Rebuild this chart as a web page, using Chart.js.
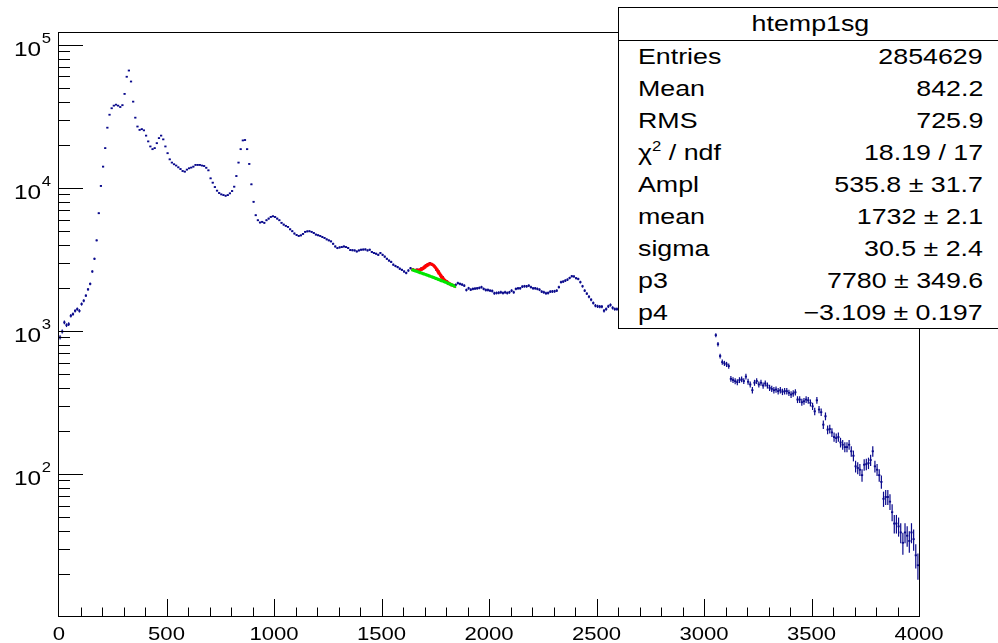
<!DOCTYPE html>
<html>
<head>
<meta charset="utf-8">
<script src="https://cdn.jsdelivr.net/npm/chart.js@4.4.1/dist/chart.umd.min.js"></script>
<style>
  html, body { margin: 0; padding: 0; background: #fff; }
  #wrap { position: relative; width: 998px; height: 643px; overflow: hidden; }
  #plot { position: absolute; left: 0; top: 0; }
  #stats {
    position: absolute; left: 618px; top: 7px; width: 384px; height: 322px;
    box-sizing: border-box; border: 1px solid #000; background: #fff;
    font-family: "Liberation Sans", Arial, sans-serif; font-size: 22.5px; color: #000;
  }
  #stats .head {
    position: absolute; left: 0; right: 0; top: 0; height: 32px; line-height: 32px;
    border-bottom: 1px solid #000; text-align: center;
  }
  #stats .row { position: absolute; left: 0; right: 0; height: 32px; line-height: 32px; }
  #stats .name, #stats .val { position: absolute; top: 0; white-space: nowrap; }
  #stats .name { left: 19px; transform: scaleX(1.19); transform-origin: left center; }
  #stats .val { right: 18px; transform: scaleX(1.19); transform-origin: right center; }
  #stats .head span { display: inline-block; transform: scaleX(1.19); }
  #stats sup { font-size: 14px; vertical-align: 9px; line-height: 0; }
</style>
</head>
<body>
<div id="wrap">
  <canvas id="plot" width="998" height="643"></canvas>
  <div id="stats"></div>
</div>
<script>
// 400 bins, 10 wide, 0..4000
const binWidth = 10;
const counts = [
  900, 990, 1146, 1096, 1114, 1274, 1310, 1380, 1420, 1380,
  1540, 1625, 1763, 1950, 2130, 2600, 3190, 4290, 6640, 10300,
  14060, 18930, 26300, 32400, 35970, 37500, 38100, 37500, 36700, 37800,
  45300, 59700, 66000, 55300, 40000, 30900, 26800, 25400, 25700, 25200,
  23150, 21100, 19450, 18620, 18930, 20500, 22240, 23150, 21800, 19450,
  17450, 15800, 15000, 14600, 14300, 13900, 13520, 13100, 12970, 13400,
  13680, 13840, 14060, 14450, 14450, 14450, 14300, 14200, 13800, 13240,
  11640, 10860, 10120, 9550, 9190, 8990, 8890, 8800, 8890, 9140,
  9490, 10180, 12080, 15000, 18620, 21430, 21570, 18620, 14680, 10570,
  7980, 6430, 5930, 5720, 5780, 5690, 5930, 6090, 6260, 6320,
  6250, 6090, 5930, 5690, 5530, 5420, 5330, 5130, 4970, 4790,
  4680, 4610, 4650, 4760, 4920, 4960, 4970, 4920, 4830, 4710,
  4660, 4610, 4530, 4460, 4360, 4290, 4220, 4060, 3890, 3790,
  3830, 3850, 3890, 3850, 3790, 3670, 3660, 3650, 3590, 3650,
  3690, 3700, 3710, 3650, 3690, 3560, 3500, 3460, 3400, 3500,
  3400, 3300, 3190, 3100, 3030, 2900, 2840, 2790, 2720, 2670,
  2600, 2540, 2640, 2740, 2700, 2630, 2680, 2640, 2730, 2740,
  2860, 2890, 2970, 2900, 2850, 2670, 2610, 2430, 2370, 2240,
  2210, 2130, 2100, 2080, 2095, 2155, 2130, 2105, 2070, 1930,
  1985, 1940, 1965, 1975, 1985, 1995, 2020, 1965, 1930, 1930,
  1910, 1900, 1830, 1840, 1845, 1860, 1840, 1860, 1840, 1860,
  1910, 1860, 1965, 1985, 1985, 2040, 2050, 2050, 2070, 2020,
  1985, 1985, 1965, 1940, 1880, 1860, 1830, 1840, 1880, 1885,
  1890, 1910, 2020, 2190, 2210, 2245, 2280, 2345, 2410, 2400,
  2335, 2305, 2190, 2050, 1910, 1820, 1733, 1652, 1566, 1500,
  1484, 1476, 1476, 1382, 1420, 1484, 1517, 1450, 1420, 1420,
  1400, 1380, 1410, 1370, 1350, 1380, 1360, 1330, 1350, 1320,
  1340, 1310, 1300, 1320, 1290, 1300, 1280, 1290, 1270, 1260,
  1280, 1250, 1260, 1240, 1250, 1230, 1240, 1220, 1230, 1210,
  1220, 1200, 1210, 1190, 1200, 1180, 1190, 1170, 1180, 1160,
  1170, 1150, 1160, 1130, 1100, 933, 807, 667, 605, 593,
  583, 567, 462, 453, 445, 438, 453, 458, 446, 479,
  441, 422, 385, 434, 446, 422, 434, 415, 429, 415,
  400, 393, 385, 389, 379, 385, 375, 379, 379, 369,
  359, 365, 372, 331, 331, 317, 322, 331, 327, 314,
  297, 274, 327, 282, 270, 221, 253, 204, 206, 195,
  181, 178, 181, 166, 160, 154, 154, 160, 144, 134,
  113, 110, 107, 98, 116, 117, 119, 125, 144, 113,
  107, 98, 88, 67, 69, 69, 64, 54, 45, 45,
  43, 39, 33, 39, 37, 34, 39, 35, 27, 23
];
const binCentres = counts.map((_, i) => (i + 0.5) * binWidth);

// gaus + pol1 fit, parameters as printed in the stats box
const fitNames = ['Ampl', 'mean', 'sigma', 'p3', 'p4'];
const fitValues = [535.8, 1732, 30.5, 7780, -3.109];
const fitErrors = [31.7, 2.1, 2.4, 349.6, 0.197];
const fitRange = [1640, 1840];

const statNames = ['Entries', 'Mean', 'RMS', '&chi;<sup>2</sup> / ndf'];
const statValues = ['2854629', '842.2', '725.9', '18.19 / 17'];

const xTicks = [0, 500, 1000, 1500, 2000, 2500, 3000, 3500, 4000];
const yExponents = [2, 3, 4, 5];

const histColour = '#0a0a8c';

function background(x) {
  return fitValues[3] + fitValues[4] * x;
}
function fitTotal(x) {
  const t = (x - fitValues[1]) / fitValues[2];
  return fitValues[0] * Math.exp(-0.5 * t * t) + background(x);
}

const fitX = [];
for (let x = fitRange[0]; x <= fitRange[1]; x += 2) fitX.push(x);

// error bars (sqrt N) under the markers, ROOT-style frame and labels on top
const rootStyle = {
  id: 'rootStyle',
  beforeDatasetsDraw(chart) {
    const { ctx, chartArea: a, scales: { x, y } } = chart;
    ctx.save();
    ctx.beginPath();
    ctx.rect(a.left, a.top, a.right - a.left, a.bottom - a.top);
    ctx.clip();
    ctx.strokeStyle = histColour;
    ctx.lineWidth = 1.2;
    counts.forEach((n, i) => {
      const err = Math.sqrt(n);
      const px = x.getPixelForValue(binCentres[i]);
      ctx.beginPath();
      ctx.moveTo(px, y.getPixelForValue(n + err));
      ctx.lineTo(px, y.getPixelForValue(Math.max(n - err, 1)));
      ctx.stroke();
    });
    ctx.restore();
  },
  afterDraw(chart) {
    const { ctx, chartArea: a, scales: { x, y } } = chart;
    ctx.save();
    ctx.strokeStyle = '#000';
    ctx.lineWidth = 1;
    ctx.strokeRect(a.left - 0.5, a.top + 0.5, a.right - a.left + 1, a.bottom - a.top - 1);

    // x ticks every 100, long ones every 500
    ctx.beginPath();
    for (let v = 100; v < 4000; v += 100) {
      const px = Math.round(x.getPixelForValue(v)) + 0.5;
      const len = v % 500 === 0 ? 17 : 8.5;
      ctx.moveTo(px, a.bottom - 1);
      ctx.lineTo(px, a.bottom - 1 - len);
    }
    // y ticks: decades long, 2..9 short
    for (let d = 1; d <= 5; d++) {
      for (let k = 1; k <= 9; k++) {
        const v = k * Math.pow(10, d);
        if (v <= y.min || v >= y.max) continue;
        const py = Math.round(y.getPixelForValue(v)) + 0.5;
        ctx.moveTo(a.left, py);
        ctx.lineTo(a.left + (k === 1 ? 24 : 11), py);
      }
    }
    ctx.stroke();

    ctx.fillStyle = '#000';
    ctx.textBaseline = 'alphabetic';
    const stretch = 1.19;
    ctx.font = '18.6px "Liberation Sans", Arial, sans-serif';
    xTicks.forEach(v => {
      const label = String(v);
      const w = ctx.measureText(label).width * stretch;
      ctx.save();
      ctx.translate(x.getPixelForValue(v) - w / 2, 640);
      ctx.scale(stretch, 1);
      ctx.fillText(label, 0, 0);
      ctx.restore();
    });
    yExponents.forEach(e => {
      const py = y.getPixelForValue(Math.pow(10, e));
      ctx.save();
      ctx.translate(14, py + 11.5);
      ctx.scale(stretch, 1);
      ctx.font = '20.5px "Liberation Sans", Arial, sans-serif';
      ctx.fillText('10', 0, 0);
      ctx.font = '14px "Liberation Sans", Arial, sans-serif';
      ctx.fillText(String(e), 23.3, -13);
      ctx.restore();
    });
    ctx.restore();
  }
};

new Chart(document.getElementById('plot'), {
  type: 'scatter',
  data: {
    datasets: [
      {
        label: 'background',
        data: fitX.map(v => ({ x: v, y: background(v) })),
        showLine: true,
        borderColor: '#00e600',
        borderWidth: 3,
        pointRadius: 0,
        order: 0
      },
      {
        label: 'fit',
        data: fitX.map(v => ({ x: v, y: fitTotal(v) })),
        showLine: true,
        borderColor: '#ff0000',
        borderWidth: 3,
        pointRadius: 0,
        order: 1
      },
      {
        label: 'htemp1sg',
        data: counts.map((n, i) => ({ x: binCentres[i], y: n })),
        pointStyle: 'line',
        pointRadius: 1.1,
        pointBorderWidth: 1.8,
        pointBorderColor: histColour,
        pointBackgroundColor: histColour,
        order: 2
      }
    ]
  },
  options: {
    responsive: false,
    animation: false,
    layout: { padding: { left: 59, right: 79, top: 32, bottom: 26 } },
    plugins: { legend: { display: false }, tooltip: { enabled: false } },
    scales: {
      x: { type: 'linear', min: 0, max: 4000, display: false },
      y: { type: 'logarithmic', min: 10, max: 122700, display: false }
    }
  },
  plugins: [rootStyle]
});

// stats box
const stats = document.getElementById('stats');
let html = '<div class="head"><span>htemp1sg</span></div>';
const fmt = v => String(v).replace('-', '\u2212');
const rows = statNames.map((n, i) => [n, statValues[i]])
  .concat(fitNames.map((n, i) => [n, fmt(fitValues[i]) + ' \u00b1 ' + fmt(fitErrors[i])]));
rows.forEach((r, k) => {
  const top = 32.5 + 32.08 * k;
  html += '<div class="row" style="top:' + top + 'px"><span class="name">' + r[0] +
    '</span><span class="val">' + r[1] + '</span></div>';
});
stats.innerHTML = html;
</script>
</body>
</html>
